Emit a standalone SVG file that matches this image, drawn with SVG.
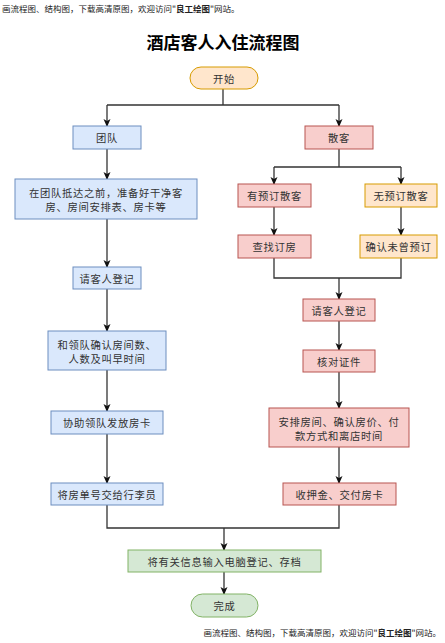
<svg xmlns="http://www.w3.org/2000/svg" width="445" height="643" viewBox="0 0 445 643">
<defs>
<marker id="arr" markerWidth="8" markerHeight="8" refX="7" refY="4" orient="auto" markerUnits="userSpaceOnUse">
<path d="M0,0.5 L8,4 L0,7.5 L2,4 Z" fill="#111"/>
</marker>
<style>
.t{font-family:"Noto Sans CJK SC","Liberation Sans",sans-serif;font-size:10.3px;letter-spacing:0.7px;fill:#333;text-anchor:middle;dominant-baseline:central}
.wm{font-family:"Noto Sans CJK SC","Liberation Sans",sans-serif;font-size:8.5px;fill:#222}
.blue{fill:#dae8fc;stroke:#6c8ebf;stroke-width:1}
.red{fill:#f8cecc;stroke:#b85450;stroke-width:1}
.org{fill:#ffe6cc;stroke:#d79b00;stroke-width:1}
.grn{fill:#d5e8d4;stroke:#82b366;stroke-width:1}
.c{fill:none;stroke:#333;stroke-width:1.3}
.ca{fill:none;stroke:#333;stroke-width:1.3;marker-end:url(#arr)}
</style>
</defs>
<rect width="445" height="643" fill="#fff"/>
<text class="wm" x="2" y="12">画流程图、结构图，下载高清原图，欢迎访问"<tspan font-weight="bold">良工绘图</tspan>"网站。</text>
<text x="223" y="49" font-family="Noto Sans CJK SC,Liberation Sans,sans-serif" font-size="17" font-weight="bold" text-anchor="middle" fill="#000">酒店客人入住流程图</text>

<g id="connectors">
<path class="c" d="M223,89 V105 M107,105 H339"/>
<path class="ca" d="M107,105 V126"/>
<path class="ca" d="M339,105 V126"/>
<path class="ca" d="M107,149 V179"/>
<path class="ca" d="M107,219 V267"/>
<path class="ca" d="M107,289 V331"/>
<path class="ca" d="M107,370 V411"/>
<path class="ca" d="M107,434 V483"/>
<path class="c" d="M339,149 V167 M274,167 H401"/>
<path class="ca" d="M274,167 V184"/>
<path class="ca" d="M401,167 V184"/>
<path class="ca" d="M274,207 V235"/>
<path class="ca" d="M401,207 V235"/>
<path class="c" d="M274,258 V278 H401 V258"/>
<path class="ca" d="M339,278 V299"/>
<path class="ca" d="M339,321 V350"/>
<path class="ca" d="M339,372 V408"/>
<path class="ca" d="M339,447 V483"/>
<path class="c" d="M107,505 V528 H339 V505"/>
<path class="ca" d="M224,528 V550"/>
<path class="ca" d="M224,572 V594"/>
</g>

<g id="start"><rect class="org" x="190" y="67" width="68" height="22" rx="11"/><text class="t" x="224" y="78">开始</text></g>
<g id="team"><rect class="blue" x="73" y="126" width="68" height="23"/><text class="t" x="107" y="137.5">团队</text></g>
<g id="walkin"><rect class="red" x="305" y="126" width="68" height="23"/><text class="t" x="339" y="137.5">散客</text></g>
<g id="prepare"><rect class="blue" x="15" y="179" width="182" height="40"/><text class="t" x="106" y="192">在团队抵达之前，准备好干净客</text><text class="t" x="106" y="206">房、房间安排表、房卡等</text></g>
<g id="register-l"><rect class="blue" x="73" y="267" width="68" height="22"/><text class="t" x="107" y="278">请客人登记</text></g>
<g id="confirm-team"><rect class="blue" x="48" y="331" width="118" height="39"/><text class="t" x="107" y="344">和领队确认房间数、</text><text class="t" x="107" y="358">人数及叫早时间</text></g>
<g id="issue-card"><rect class="blue" x="51" y="411" width="112" height="23"/><text class="t" x="107" y="422.5">协助领队发放房卡</text></g>
<g id="bellboy"><rect class="blue" x="51" y="483" width="112" height="22"/><text class="t" x="107" y="494">将房单号交给行李员</text></g>
<g id="booked"><rect class="red" x="238" y="184" width="73" height="23"/><text class="t" x="274.5" y="195.5">有预订散客</text></g>
<g id="unbooked"><rect class="org" x="365" y="184" width="72" height="23"/><text class="t" x="401" y="195.5">无预订散客</text></g>
<g id="find"><rect class="red" x="238" y="235" width="73" height="23"/><text class="t" x="274.5" y="246.5">查找订房</text></g>
<g id="confirm-none"><rect class="org" x="360" y="235" width="77" height="23"/><text class="t" x="398.5" y="246.5">确认未曾预订</text></g>
<g id="register-r"><rect class="red" x="303" y="299" width="72" height="22"/><text class="t" x="339" y="310">请客人登记</text></g>
<g id="verify"><rect class="red" x="303" y="350" width="72" height="22"/><text class="t" x="339" y="361">核对证件</text></g>
<g id="arrange"><rect class="red" x="269" y="408" width="140" height="39"/><text class="t" x="339" y="421">安排房间、确认房价、付</text><text class="t" x="339" y="435">款方式和离店时间</text></g>
<g id="deposit"><rect class="red" x="283" y="483" width="113" height="22"/><text class="t" x="339.5" y="494">收押金、交付房卡</text></g>
<g id="record"><rect class="grn" x="128" y="550" width="193" height="22"/><text class="t" x="224.5" y="561">将有关信息输入电脑登记、存档</text></g>
<g id="end"><rect class="grn" x="191" y="594" width="67" height="23" rx="11.5"/><text class="t" x="224.5" y="605.5">完成</text></g>

<text class="wm" x="441" y="636" text-anchor="end">画流程图、结构图，下载高清原图，欢迎访问"<tspan font-weight="bold">良工绘图</tspan>"网站。</text>
</svg>
